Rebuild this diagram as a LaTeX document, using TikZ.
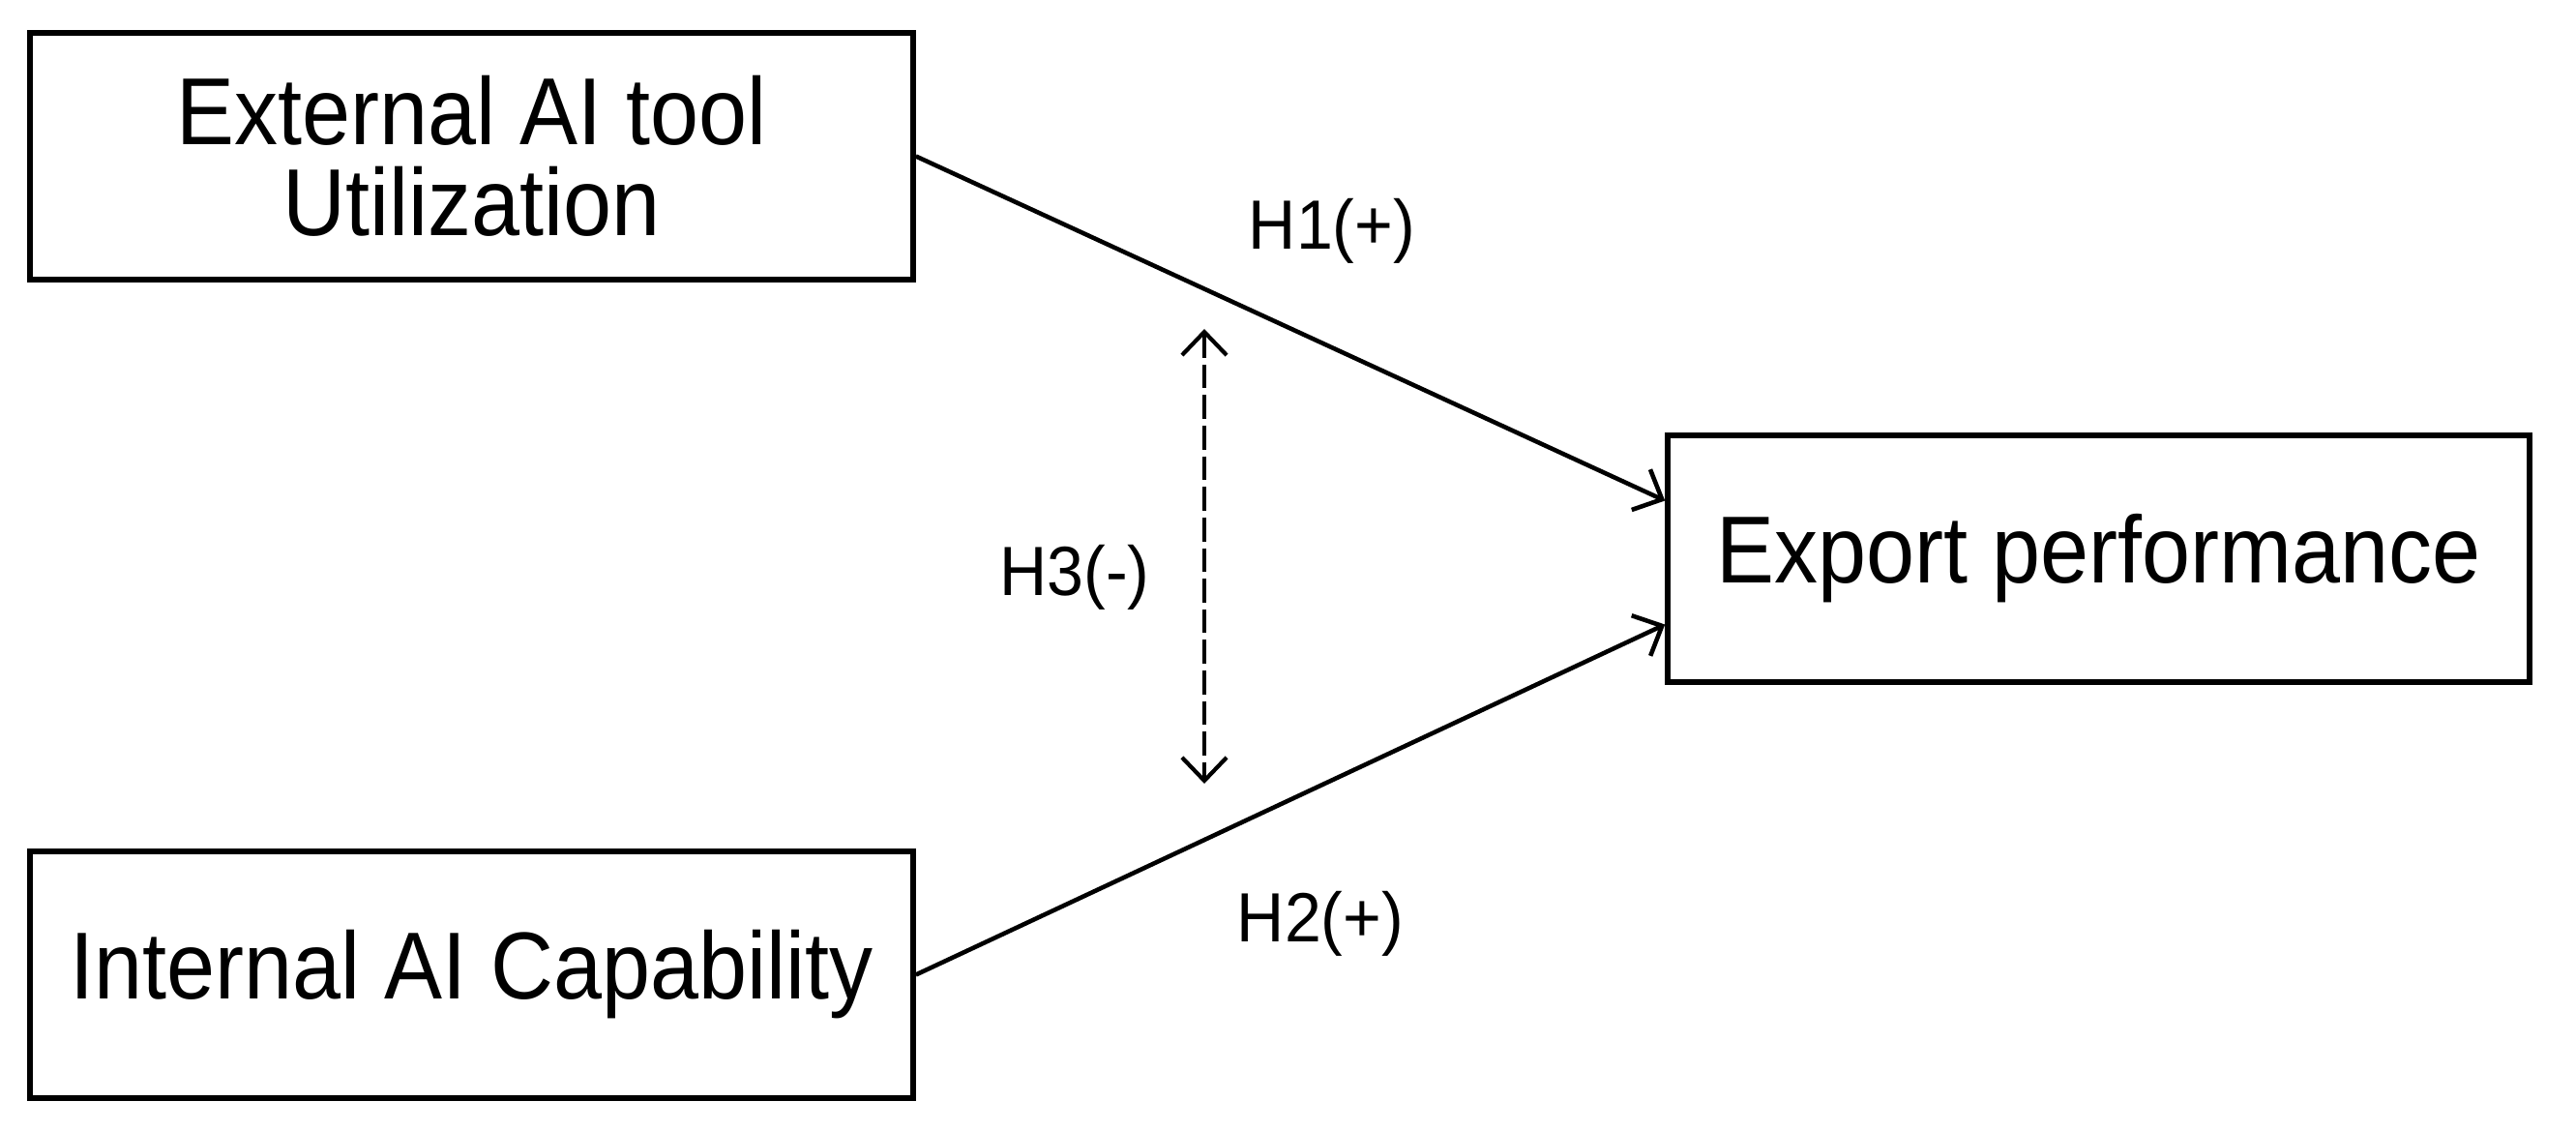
\documentclass[tikz,border=0pt]{standalone}
\usepackage{fontspec}
\setmainfont{Liberation Sans}
\newfontfamily\boxfont[FakeStretch=0.914]{Liberation Sans}
\newfontfamily\hypfont[FakeStretch=0.945]{Liberation Sans}
\usetikzlibrary{arrows.meta}
\begin{document}
\begin{tikzpicture}[line width=1.3pt,
                    var node/.style={draw,line width=1.6pt,minimum height=2.55cm,align=center,
                                     font=\boxfont\fontsize{28}{26.7}\selectfont},
                    hyp label/.style={anchor=base,font=\hypfont\fontsize{20.5}{22}\selectfont},
                    path arrow/.style={-{Straight Barb[length=0.24cm,width=0.46cm]}},
                    link arrow/.style={dashed,dash pattern=on 7pt off 2pt,
                                       {Straight Barb[length=0.24cm,width=0.46cm]}-{Straight Barb[length=0.24cm,width=0.46cm]}}]
        \useasboundingbox (0,0) rectangle (26.63,11.68);

        % Define vertices
        \node[var node,minimum width=9.13cm] (ext) at (4.875,10.065) {External AI tool\\Utilization};
        \node[var node,minimum width=9.13cm] (int) at (4.875,1.605) {Internal AI Capability};
        \node[var node,minimum width=8.91cm] (exp) at (21.695,5.905) {Export performance};

        \coordinate (top) at (12.45,8.28);
        \coordinate (bot) at (12.45,3.58);

        % Define edges
        \draw[path arrow] (ext.east) -- ([yshift=0.6cm]exp.west);
        \draw[path arrow] (int.east) -- ([yshift=-0.68cm]exp.west);
        \draw[link arrow,line width=1.2pt] (top) -- (bot);

        \node[hyp label] (h1) at (13.77,9.11) {H1(+)};
        \node[hyp label] (h3) at (11.11,5.53) {H3(-)};
        \node[hyp label] (h2) at (13.65,1.95) {H2(+)};
\end{tikzpicture}
\end{document}
